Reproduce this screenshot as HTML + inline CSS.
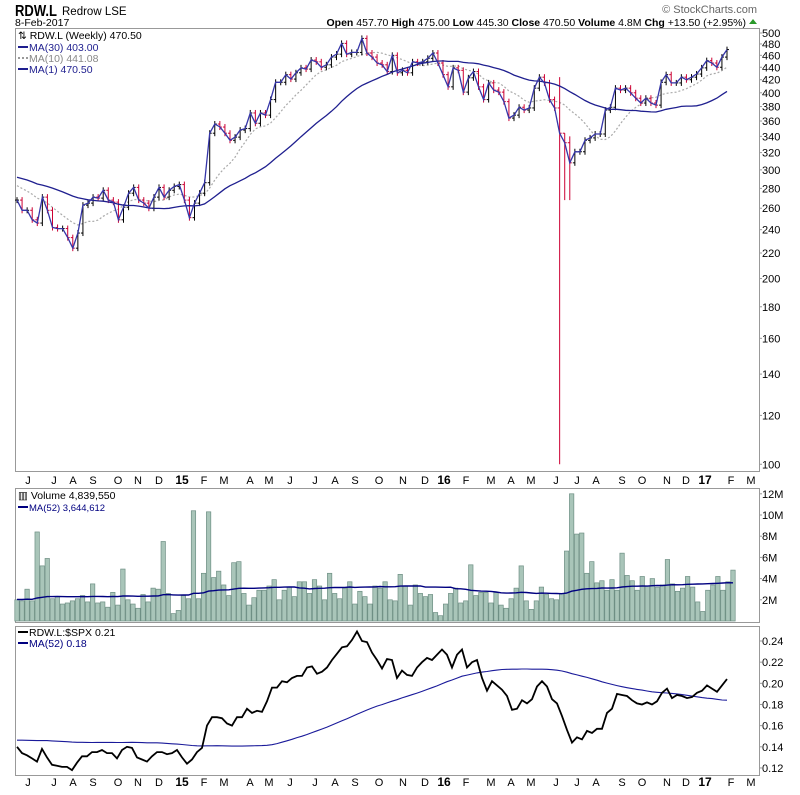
<!DOCTYPE html>
<html><head><meta charset="utf-8">
<style>
html,body{margin:0;padding:0;background:#fff;}
svg{display:block;font-family:"Liberation Sans",sans-serif;}
</style></head>
<body>
<svg id="chart" width="800" height="795" viewBox="0 0 800 795" xmlns="http://www.w3.org/2000/svg">
  <g>
    <text x="15" y="16" font-size="16" font-weight="bold" fill="#000" textLength="42" lengthAdjust="spacingAndGlyphs">RDW.L</text>
    <text x="62" y="15" font-size="11.5" fill="#000">Redrow LSE</text>
    <text x="15" y="26" font-size="10.5" fill="#000">8-Feb-2017</text>
    <text x="757" y="13" font-size="11" fill="#666" text-anchor="end">© StockCharts.com</text>
    <text x="746" y="26" font-size="10.5" fill="#000" text-anchor="end"><tspan font-weight="bold">Open</tspan> 457.70 <tspan font-weight="bold">High</tspan> 475.00 <tspan font-weight="bold">Low</tspan> 445.30 <tspan font-weight="bold">Close</tspan> 470.50 <tspan font-weight="bold">Volume</tspan> 4.8M <tspan font-weight="bold">Chg</tspan> +13.50 (+2.95%)</text>
    <polygon points="749,24 757,24 753,19" fill="#2a9a2a"/>
  </g>
  <rect x="15.5" y="28.5" width="744" height="443" fill="none" stroke="#999"/>
  <rect x="15.5" y="488.5" width="744" height="134" fill="none" stroke="#999"/>
  <rect x="15.5" y="626.5" width="744" height="149" fill="none" stroke="#999"/>
  <g id="price"></g><g id="vol"></g><g id="rs"></g><g id="months"></g>
  <g font-size="10.5">
    <text x="18" y="39" fill="#000">⇅ RDW.L (Weekly) 470.50</text>
    <line x1="18" y1="47" x2="28" y2="47" stroke="#1f1f8f" stroke-width="2"/>
    <text x="29" y="51" fill="#1f1f8f">MA(30) 403.00</text>
    <line x1="18" y1="58" x2="28" y2="58" stroke="#999" stroke-width="2" stroke-dasharray="2,2"/>
    <text x="29" y="62" fill="#888">MA(10) 441.08</text>
    <line x1="18" y1="69" x2="28" y2="69" stroke="#1f1f8f" stroke-width="2"/>
    <text x="29" y="73" fill="#1f1f8f">MA(1) 470.50</text>
  </g>
  <g font-size="10.5">
    <text x="18" y="499" fill="#000">▥ Volume 4,839,550</text>
    <line x1="18" y1="507" x2="28" y2="507" stroke="#000080" stroke-width="2"/>
    <text x="29" y="511" fill="#000080" font-size="9.5">MA(52) 3,644,612</text>
  </g>
  <g font-size="10.5">
    <line x1="18" y1="632" x2="28" y2="632" stroke="#000" stroke-width="2"/>
    <text x="29" y="636" fill="#000">RDW.L:$SPX 0.21</text>
    <line x1="18" y1="643" x2="28" y2="643" stroke="#000080" stroke-width="2"/>
    <text x="29" y="647" fill="#000080">MA(52) 0.18</text>
  </g>
</svg>
<script>
const closes = [268,258,258,249,246,271,258,242,241,241,233,224,237,263,265,271,270,278,268,266,249,261,275,281,268,265,260,271,281,271,278,282,284,268,251,265,275,286,
344,356,352,344,335,339,348,350,371,357,371,368,390,416,416,428,421,431,439,437,452,449,440,444,457,462,481,462,465,465,490,464,457,447,444,433,460,
431,435,431,449,447,449,455,464,447,428,409,439,435,401,423,433,409,390,415,404,401,387,364,368,379,375,378,407,424,415,390,378,344,332,308,
321,321,335,338,343,343,375,379,407,404,407,400,392,385,392,385,382,416,428,415,415,424,420,424,429,439,451,447,440,457,470];
const priorCloses = [300,305,310,312,308,300,295,298,302,296,290,288,292,295,290,285,288,290,292,290,288,285,282,286,290,288,284,280,278];
const spikeIdx = [107,108,109];
const spikeLow = [100,268,268];
const spikeHigh = [424,344,340];
const volumes = [2.0,1.9,3.0,1.9,8.4,5.2,5.9,2.1,2.3,1.6,1.7,1.9,2.1,2.4,1.8,3.5,1.7,1.8,1.3,2.7,1.5,4.9,2.0,1.6,1.2,2.5,1.8,3.1,3.0,7.5,2.6,0.7,1.0,2.4,2.1,10.4,2.1,4.5,10.3,4.1,4.7,3.4,2.4,5.5,5.6,2.6,1.5,2.2,2.9,2.9,3.3,3.9,2.0,2.9,3.2,2.3,3.7,3.7,2.6,3.9,3.3,2.0,4.5,2.6,2.1,3.1,3.7,1.6,2.8,2.3,1.6,3.3,3.1,3.7,2.0,1.9,4.4,3.3,1.5,3.4,2.6,2.3,2.5,0.8,0.5,1.6,2.6,3.1,1.7,1.9,5.3,2.4,2.7,2.7,1.7,2.7,1.5,1.2,2.1,3.1,5.2,1.9,1.1,1.9,3.2,2.5,2.1,2.0,2.6,6.6,12.0,8.2,8.3,4.5,5.6,3.6,3.8,2.9,3.9,2.9,6.4,4.3,3.8,2.9,4.2,3.3,4.0,3.2,3.4,5.8,3.5,2.8,3.1,4.2,3.2,1.8,0.9,2.9,3.4,4.2,2.9,3.7,4.8];
const priorVolumes = [2.1,1.9,2.2,2.0,1.8,2.3,2.1,1.9,2.0,2.2,2.1,1.8,2.0,2.3,1.9,2.1,2.0,2.2,1.9,2.1,2.0,1.8,2.2,2.1,1.9,2.0,2.3,2.1,1.9,2.0,2.2,2.0,1.8,2.1,2.0,2.2,1.9,2.1,2.0,2.0,2.1,1.9,2.2,2.0,1.8,2.1,2.0,2.2,1.9,2.1,2.0];
const rs = [.140,.134,.132,.129,.126,.138,.130,.123,.122,.121,.121,.118,.125,.131,.131,.135,.135,.137,.134,.134,.129,.137,.140,.139,.130,.128,.126,.131,.135,.135,.133,.134,.137,.130,.124,.128,.135,.139,.160,.168,.168,.167,.162,.160,.168,.168,.176,.172,.174,.173,.183,.196,.196,.202,.201,.205,.207,.207,.215,.216,.209,.211,.215,.222,.228,.234,.235,.241,.249,.240,.239,.229,.222,.214,.223,
.222,.205,.212,.208,.207,.215,.220,.224,.222,.227,.232,.227,.215,.227,.232,.215,.220,.222,.205,.193,.202,.198,.194,.188,.175,.176,.184,.181,.185,.197,.202,.197,.185,.181,.169,.156,.144,.149,.147,.155,.153,.157,.157,.172,.176,.190,.189,.188,.184,.181,.180,.182,.180,.183,.191,.195,.186,.189,.188,.186,.187,.191,.193,.198,.195,.192,.198,.204];
const priorRS = [.135,.136,.134,.135,.137,.133,.135,.136,.134,.135,.136,.134,.135,.135,.137,.133,.135,.136,.134,.135,.136,.134,.135,.135,.136,.134,.135,.135,.150,.148,.152,.150,.149,.151,.150,.150,.148,.152,.168,.166,.170,.168,.167,.169,.168,.166,.170,.168,.167,.169,.168];
const priceTicks = [500,480,460,440,420,400,380,360,340,320,300,280,260,240,220,200,180,160,140,120,100];
const volTicks = [2,4,6,8,10,12];
const rsTicks = [0.12,0.14,0.16,0.18,0.20,0.22,0.24];
const monthLabels = ["J","J","A","S","O","N","D","15","F","M","A","M","J","J","A","S","O","N","D","16","F","M","A","M","J","J","A","S","O","N","D","17","F","M"];
const monthPos = [28,54,73,93,118,138,159,182,204,224,250,269,290,315,335,355,379,403,425,444,466,491,511,531,556,577,596,622,642,667,686,705,731,751];

const NS="http://www.w3.org/2000/svg";
function mk(parent,tag,attrs){const e=document.createElementNS(NS,tag);for(const k in attrs)e.setAttribute(k,attrs[k]);parent.appendChild(e);return e;}
const xP = i => 17 + i*(710/(closes.length-1));
const yP = p => 33 + 617*Math.log10(500/p);
const xV = i => 17 + i*(716/(volumes.length-1));
const yV = v => 621 - v*10.6;
const xR = i => 17 + i*(710/(rs.length-1));
const yR = v => 641 + (0.24-v)*1058;
function ma(prior,arr,n){const all=prior.concat(arr);return arr.map((_,i)=>{const e=prior.length+i+1;const s=all.slice(Math.max(0,e-n),e);return s.reduce((a,b)=>a+b,0)/s.length;});}
function pathOf(vals,xf,yf){return vals.map((v,i)=>(i?'L':'M')+xf(i).toFixed(1)+','+yf(v).toFixed(1)).join(' ');}

const gP=document.getElementById('price');
priceTicks.forEach(t=>{
  const tx=mk(gP,'text',{x:762,y:yP(t)+4,'font-size':11,fill:'#000'});
  
  
  tx.textContent=t;
  mk(gP,'line',{x1:759,x2:762,y1:yP(t),y2:yP(t),stroke:'#999'});
});
const ma30=ma(priorCloses,closes,30), ma10=ma(priorCloses,closes,10);
const m10=mk(gP,'path',{d:pathOf(ma10,xP,yP),fill:'none',stroke:'#aaa','stroke-width':1.2,'stroke-dasharray':'2,2'});


closes.forEach((c,i)=>{
  const o=i?closes[i-1]:c;
  let hi=Math.max(o,c),lo=Math.min(o,c);
  let yh=yP(hi)-3, yl=yP(lo)+3;
  const k=spikeIdx.indexOf(i);
  if(k>=0){yh=yP(spikeHigh[k]);yl=yP(spikeLow[k]);}
  const col=c<o?'#cc0033':'#000';
  const x=xP(i);
  const g=mk(gP,'g',{stroke:col,'stroke-width':1});
  
  
  mk(g,'line',{x1:x,x2:x,y1:yh,y2:yl});
  mk(g,'line',{x1:x-2,x2:x,y1:yP(o),y2:yP(o)});
  mk(g,'line',{x1:x,x2:x+2,y1:yP(c),y2:yP(c)});
});
const m30=mk(gP,'path',{d:pathOf(ma30,xP,yP),fill:'none',stroke:'#1f1f8f','stroke-width':1.3});


const m1=mk(gP,'path',{d:pathOf(closes,xP,yP),fill:'none',stroke:'#3535a8','stroke-width':1.3});



const gV=document.getElementById('vol');
volumes.forEach((v,i)=>{
  const r=mk(gV,'rect',{x:xV(i)-2.2,y:yV(v),width:4.4,height:621-yV(v),fill:'#a9c5b9',stroke:'#6e8f84','stroke-width':0.7});
  
  
});
const vma=ma(priorVolumes,volumes,52);
const vm=mk(gV,'path',{d:pathOf(vma,xV,yV),fill:'none',stroke:'#000080','stroke-width':1.4});


volTicks.forEach(t=>{
  const tx=mk(gV,'text',{x:762,y:yV(t)+4,'font-size':11,fill:'#000'});
  
  
  tx.textContent=t+'M';
  mk(gV,'line',{x1:759,x2:762,y1:yV(t),y2:yV(t),stroke:'#999'});
});

const gR=document.getElementById('rs');
const rma=ma(priorRS,rs,52);
const rm=mk(gR,'path',{d:pathOf(rma,xR,yR),fill:'none',stroke:'#1a1a9a','stroke-width':1.1});


const rl=mk(gR,'path',{d:pathOf(rs,xR,yR),fill:'none',stroke:'#000','stroke-width':1.8});


rsTicks.forEach(t=>{
  const tx=mk(gR,'text',{x:762,y:yR(t)+4,'font-size':11,fill:'#000'});
  
  
  tx.textContent=t.toFixed(2);
  mk(gR,'line',{x1:759,x2:762,y1:yR(t),y2:yR(t),stroke:'#999'});
});

const gM=document.getElementById('months');
[484,786].forEach(yy=>{
  monthLabels.forEach((m,i)=>{
    const bold=/\d/.test(m);
    const tx=mk(gM,'text',{x:monthPos[i],y:yy,'font-size':bold?12:11,'font-weight':bold?'bold':'normal','text-anchor':'middle',fill:'#000'});
    
    
    tx.textContent=m;
  });
});
</script>
</body></html>
